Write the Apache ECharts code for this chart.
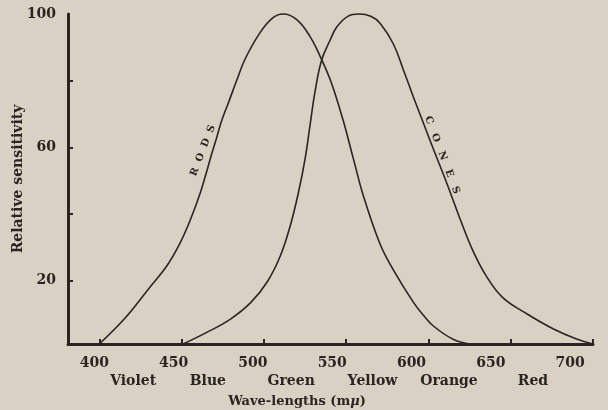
<!DOCTYPE html>
<html>
<head>
<meta charset="utf-8">
<script src="https://cdn.jsdelivr.net/npm/echarts@6/dist/echarts.min.js"></script>
<style>
html,body{margin:0;padding:0;background:#d8d1c4;}
#chart{width:608px;height:410px;}
</style>
</head>
<body>
<div id="chart"></div>
<script>
// ---- data ----
const wavelengthTicks = [400, 450, 500, 550, 600, 650, 700];
const sensitivityTicks = [20, 40, 60, 80];
const sensitivityLabels = [20, 60, 100];
const colorNames = ['Violet', 'Blue', 'Green', 'Yellow', 'Orange', 'Red'];
const colorCenters = [420.6, 466, 516.6, 566, 612.5, 663.5];

const rodsWavelength = [400, 415, 431, 441, 449, 455.3, 461.3, 465.4, 468.4, 471.5, 474.5, 478.5, 483.6, 488.6, 497.8, 505.6, 511.7, 520, 528, 534.2, 541, 548, 554.5, 560.5, 570.6, 578.5, 591, 597, 603, 615, 625];
const rodsValue      = [1, 8.4, 18.2, 24.4, 31.2, 38.2, 46.2, 53, 58.2, 63.2, 68.2, 73.4, 80.2, 86.5, 94.5, 98.9, 100, 98.3, 93.3, 87.3, 79.4, 68.4, 56.4, 45.4, 31, 23.4, 13.4, 9.6, 6.4, 2.4, 1];

const conesWavelength = [451, 465, 479.5, 492, 502, 510, 516, 521, 525, 528, 531, 535, 540.3, 544.3, 551, 558, 565, 570.6, 578.7, 584.8, 590.8, 597, 603, 609, 614, 620, 627, 635, 645, 660, 676, 690, 700];
const conesValue      = [1, 4.4, 8.4, 13.4, 19.6, 27.4, 36.4, 46.4, 56.4, 66.4, 76.4, 86, 92.2, 96.1, 99.3, 100, 99.3, 97.2, 91, 83.2, 75.2, 67.2, 59.5, 52, 45.5, 37.5, 29, 21.5, 15, 10, 5.5, 2.5, 1];

const rodsLabelAt = [463, 59];
const conesLabelAt = [608.3, 57.7];

// ---- styling ----
const ink = '#2a2522';
const serif = 'DejaVu Serif';
const font = { fontFamily: serif, fontWeight: 'bold', color: ink };

const zip = (xs, ys) => xs.map((x, i) => [x, ys[i]]);

const chart = echarts.init(document.getElementById('chart'), null, { renderer: 'canvas' });
chart.setOption({
  backgroundColor: '#d8d1c4',
  animation: false,
  grid: { left: 68, right: 15, top: 14, bottom: 66, containLabel: false, outerBoundsMode: 'none' },
  xAxis: [
    {
      type: 'value', min: 381, max: 700,
      axisLine: { show: true, lineStyle: { color: ink, width: 3 } },
      axisTick: { show: true, inside: true, length: 5, customValues: wavelengthTicks, lineStyle: { color: ink, width: 2 } },
      axisLabel: { show: false },
      splitLine: { show: false }
    },
    {
      type: 'value', min: 383.3, max: 714.5, position: 'bottom',
      axisLine: { show: false }, axisTick: { show: false }, splitLine: { show: false },
      axisLabel: { show: true, customValues: wavelengthTicks, margin: 12, fontSize: 14, ...font }
    },
    {
      type: 'value', min: 381, max: 700, position: 'bottom',
      axisLine: { show: false }, axisTick: { show: false }, splitLine: { show: false },
      axisLabel: {
        show: true, customValues: colorCenters, margin: 30, fontSize: 14, ...font,
        formatter: v => {
          let best = 0;
          colorCenters.forEach((c, i) => { if (Math.abs(c - v) < Math.abs(colorCenters[best] - v)) best = i; });
          return colorNames[best];
        }
      }
    }
  ],
  yAxis: {
    type: 'value', min: 1, max: 100,
    name: 'Relative sensitivity', nameLocation: 'middle', nameRotate: 90, nameGap: 43,
    nameMoveOverlap: false,
    nameTextStyle: { fontSize: 14, ...font },
    axisLine: { show: true, lineStyle: { color: ink, width: 3 } },
    axisTick: { show: true, inside: true, length: 5, customValues: sensitivityTicks, lineStyle: { color: ink, width: 2 } },
    axisLabel: { show: true, customValues: sensitivityLabels, margin: 12, fontSize: 14, ...font },
    splitLine: { show: false }
  },
  series: [
    {
      name: 'Rods', type: 'line', xAxisIndex: 0, smooth: 0.4, symbol: 'none', clip: false,
      lineStyle: { color: ink, width: 1.6 },
      data: zip(rodsWavelength, rodsValue),
      markPoint: {
        symbol: 'circle', symbolSize: 0,
        label: { show: true, position: 'inside', formatter: 'R  O  D  S', rotate: 69, fontSize: 10, ...font },
        data: [{ coord: rodsLabelAt }]
      }
    },
    {
      name: 'Cones', type: 'line', xAxisIndex: 0, smooth: 0.4, symbol: 'none', clip: false,
      lineStyle: { color: ink, width: 1.6 },
      data: zip(conesWavelength, conesValue),
      markPoint: {
        symbol: 'circle', symbolSize: 0,
        label: { show: true, position: 'inside', formatter: 'C   O   N   E   S', rotate: -69, fontSize: 10, ...font },
        data: [{ coord: conesLabelAt }]
      }
    }
  ],
  graphic: [
    {
      type: 'text', x: 297, y: 402,
      style: {
        text: 'Wave-lengths (m{mu|μ})', align: 'center', verticalAlign: 'middle',
        fontFamily: serif, fontWeight: 'bold', fontSize: 13, fill: ink,
        rich: { mu: { fontFamily: serif, fontWeight: 'bold', fontStyle: 'italic', fontSize: 13, fill: ink } }
      }
    }
  ]
});
</script>
</body>
</html>
